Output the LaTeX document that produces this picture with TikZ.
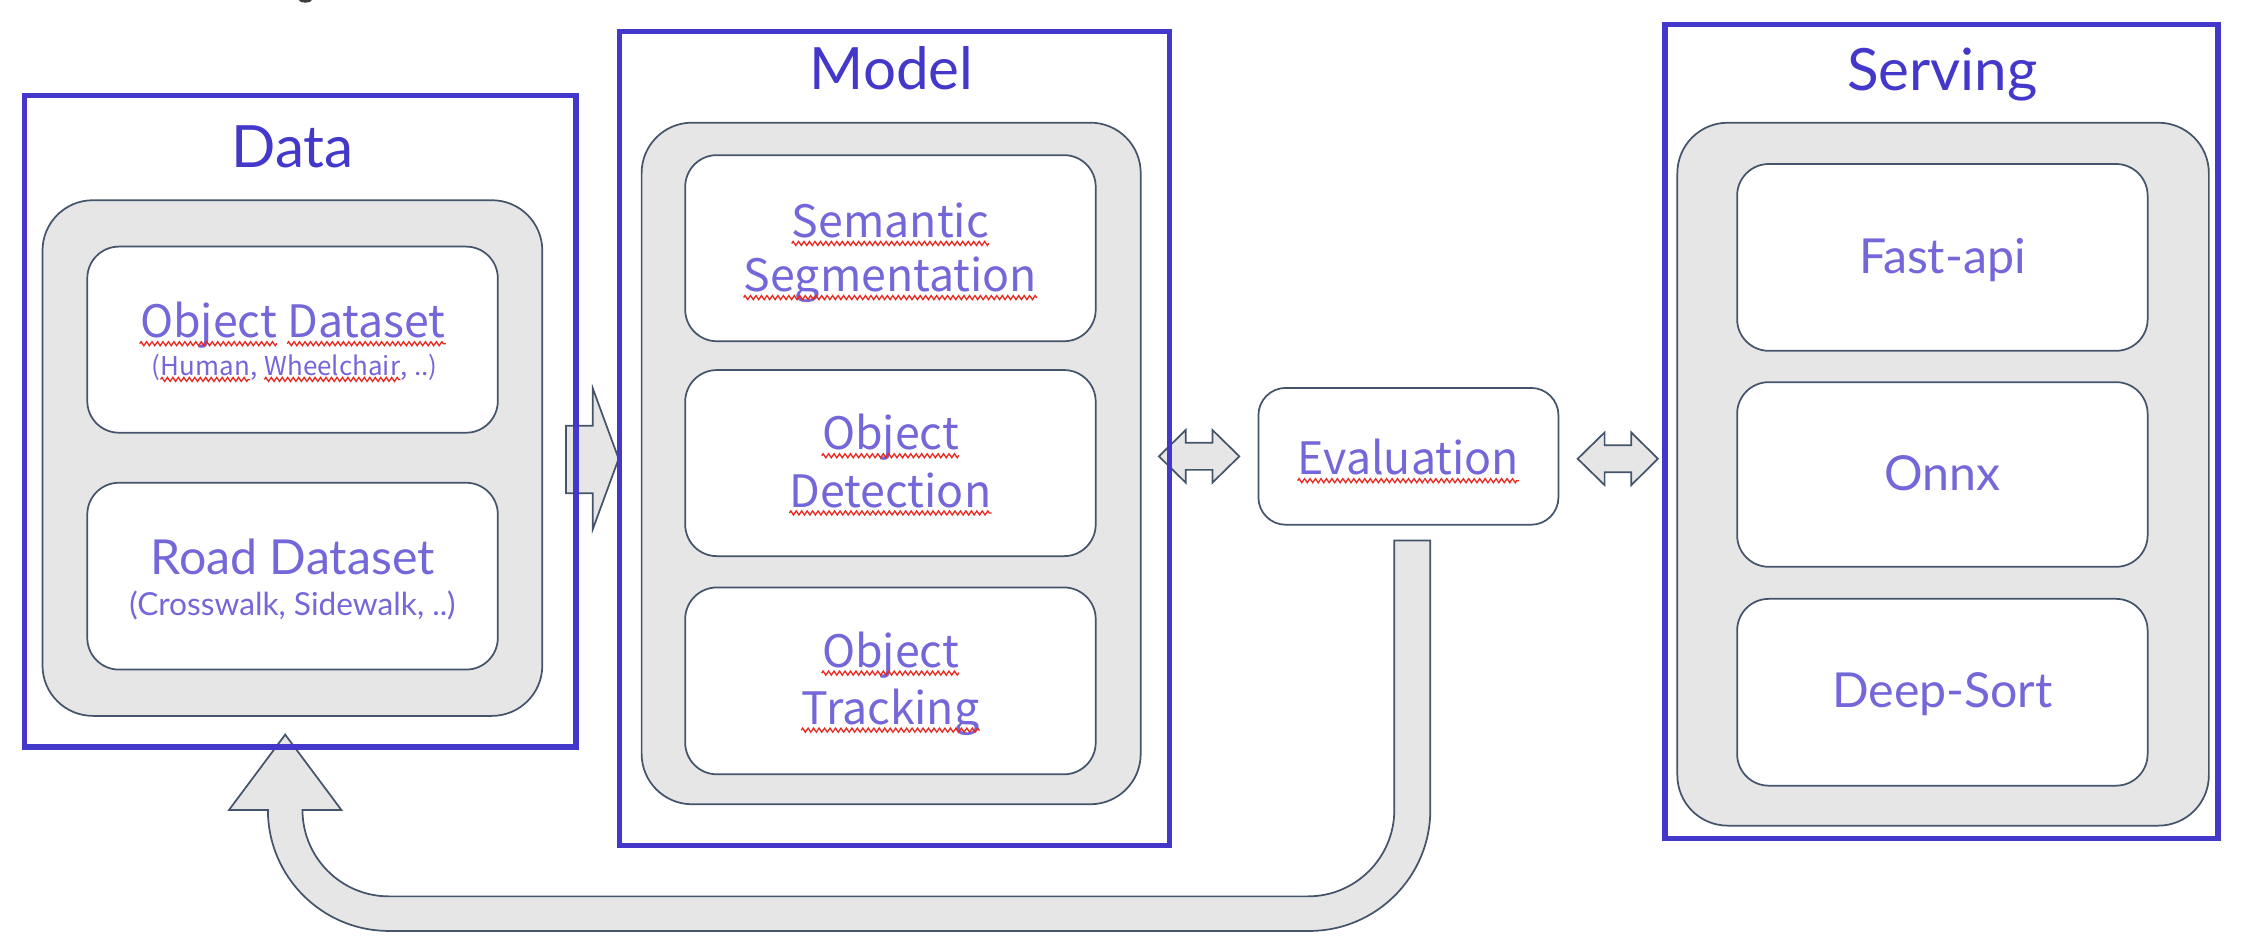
\documentclass[tikz,border=0pt]{standalone}
\usepackage{fontspec}
\setmainfont{Lato}
\newfontfamily\widefont{Lato}
\newfontfamily\condfont{Noto Sans CJK KR}
\usetikzlibrary{decorations.pathmorphing}
\definecolor{frameblue}{RGB}{67,56,202}
\definecolor{txtviolet}{RGB}{115,103,217}
\definecolor{panelgray}{RGB}{231,230,230}
\definecolor{edgecol}{RGB}{68,84,106}
\definecolor{squigred}{RGB}{235,40,30}
\definecolor{darktxt}{RGB}{60,60,60}
\newcommand\SqUnder[2]{\draw[squig] ([yshift=-#2]#1.base west) -- ([yshift=-#2]#1.base east);}
\begin{document}
\begin{tikzpicture}[x=1pt,y=1pt,
  frame/.style={draw=frameblue, line width=3.8pt, rectangle, inner sep=0pt},
  panel/.style={draw=edgecol, fill=panelgray, line width=1.2pt, rounded corners=35pt, inner sep=0pt},
  wbox/.style={draw=edgecol, fill=white, line width=1.2pt, rounded corners=22pt, inner sep=0pt, minimum width=285pt, minimum height=129.2pt},
  blockarrow/.style={draw=edgecol, fill=panelgray, line width=1.2pt, line join=miter},
  title/.style={font=\widefont\fontsize{40.5}{48}\selectfont, text=frameblue, inner sep=0pt, anchor=base},
  wtxt/.style={font=\widefont\fontsize{33.5}{40}\selectfont, text=txtviolet, inner sep=0pt, anchor=base},
  wsmall/.style={font=\widefont\fontsize{22}{26}\selectfont, text=txtviolet, inner sep=0pt, anchor=base},
  ctxt/.style={font=\condfont\fontsize{31}{38}\selectfont, text=txtviolet, inner sep=0pt, anchor=base},
  csmall/.style={font=\condfont\fontsize{18}{22}\selectfont, text=txtviolet, inner sep=0pt, anchor=base west},
  squig/.style={draw=squigred, line width=0.9pt, decorate, decoration={zigzag, amplitude=1.4pt, segment length=3.8pt}},
]
\useasboundingbox (0,0) rectangle (1559.3,-654);

% cut-off glyph at the top edge
\fill[darktxt] (212,0) ellipse (4.6pt and 1.8pt);

% block arrows
\draw[blockarrow] (393,-295.5) -- (411.5,-295.5) -- (411.5,-269.5) -- (429.5,-318.5) -- (411.5,-367.5) -- (411.5,-342.5) -- (393,-342.5) -- cycle;
\draw[blockarrow] (804.6,-316.8) -- (823.2,-298.5) -- (823.2,-307.4) -- (841.7,-307.4) -- (841.7,-298.5) -- (860.4,-316.8) -- (841.7,-335.1) -- (841.7,-326.2) -- (823.2,-326.2) -- (823.2,-335.1) -- cycle;
\draw[blockarrow] (1095.3,-318.5) -- (1114,-300.2) -- (1114,-309.1) -- (1132.5,-309.1) -- (1132.5,-300.2) -- (1151,-318.5) -- (1132.5,-336.8) -- (1132.5,-327.9) -- (1114,-327.9) -- (1114,-336.8) -- cycle;
\draw[blockarrow] (968,-375.2) -- (993,-375.2) -- (993,-562.3) arc[start angle=0, end angle=-90, radius=84pt]
  -- (270,-646.3) arc[start angle=-90, end angle=-180, radius=84pt]
  -- (159,-562.3) -- (198,-510) -- (237,-562.3) -- (210,-562.3)
  arc[start angle=180, end angle=270, radius=60pt]
  -- (908,-622.3) arc[start angle=270, end angle=360, radius=60pt] -- cycle;

% frames
\node[frame, minimum width=383pt, minimum height=452.5pt] (dataF) at (208.5,-292.5) {};
\node[frame, minimum width=382pt, minimum height=565.3pt] (modelF) at (621,-304.4) {};
\node[frame, minimum width=384pt, minimum height=565.3pt] (servF) at (1348,-299.5) {};

% panels
\node[panel, minimum width=347pt, minimum height=358pt] (dataG) at (203,-318) {};
\node[panel, minimum width=346.5pt, minimum height=473.2pt] (modelG) at (618.7,-321.75) {};
\node[panel, minimum width=369pt, minimum height=488pt] (servG) at (1349,-329.2) {};

% boxes
\node[wbox] (od) at (203.1,-235.8) {};
\node[wbox, minimum height=129.7pt] (rd) at (203.1,-400) {};
\node[wbox] (ss) at (618.2,-172.3) {};
\node[wbox] (odet) at (618.2,-321.5) {};
\node[wbox, minimum height=129.7pt] (otr) at (618.2,-472.7) {};
\node[wbox, minimum height=129.7pt] (fa) at (1348.5,-178.7) {};
\node[wbox, minimum height=128.2pt] (on) at (1348.5,-329.4) {};
\node[wbox, minimum height=129.7pt] (ds) at (1348.5,-480.6) {};
\node[wbox, minimum width=208.3pt, minimum height=95pt, rounded corners=19pt] (ev) at (977.8,-316.8) {};

% titles
\node[title] (tData) at (203,-116.1) {Data};
\node[title] (tModel) at (619,-61.8) {Model};
\node[title] (tServ) at (1348.5,-62.7) {Serving};

% data texts
\node[ctxt, anchor=base west] (ob1) at (97,-234.6) {Object};
\node[ctxt, anchor=base west] (ob2) at ([xshift=7pt]ob1.base east) {Dataset};
\node[csmall] (hu0) at (105,-260.9) {(};
\node[csmall] (hu1) at (hu0.base east) {Human};
\node[csmall] (hu2) at (hu1.base east) {,};
\node[csmall] (hu3) at ([xshift=4.5pt]hu2.base east) {Wheelchair};
\node[csmall] (hu4) at (hu3.base east) {,\hspace{4.5pt}..)};
\node[wtxt] (rdt) at (203.1,-399) {Road Dataset};
\node[wsmall] (rds) at (203.1,-427.3) {(Crosswalk, Sidewalk, ..)};

% model texts
\node[ctxt] (sem) at (618.2,-165) {Semantic};
\node[ctxt] (seg) at (618.2,-202.6) {Segmentation};
\node[ctxt] (obj1) at (618.2,-312.4) {Object};
\node[ctxt] (det) at (618.2,-352.1) {Detection};
\node[ctxt] (obj2) at (618.2,-463.3) {Object};
\node[ctxt] (trk) at (618.2,-502.9) {Tracking};
\node[ctxt] (evt) at (977.8,-329.7) {Evaluation};

% serving texts
\node[wtxt] (fat) at (1348.5,-190.1) {Fast-api};
\node[wtxt] (ont) at (1348.5,-340.6) {Onnx};
\node[wtxt] (dst) at (1348.5,-491) {Deep-Sort};

% spell-check squiggles
\SqUnder{ob1}{4pt}
\SqUnder{ob2}{4pt}
\SqUnder{hu1}{2.5pt}
\SqUnder{hu3}{2.5pt}
\SqUnder{sem}{4pt}
\SqUnder{seg}{4pt}
\SqUnder{obj1}{4pt}
\SqUnder{det}{4pt}
\SqUnder{obj2}{4pt}
\SqUnder{trk}{4pt}
\SqUnder{evt}{4pt}
\end{tikzpicture}
\end{document}
